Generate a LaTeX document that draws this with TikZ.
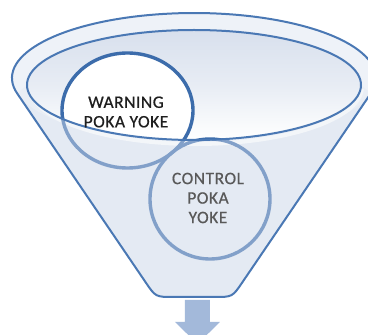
\documentclass[tikz,border=0pt]{standalone}
\usepackage{fontspec}
\setmainfont{Carlito}[LetterSpace=3,FakeBold=0.6]
\begin{document}
\begin{tikzpicture}[x=1pt,y=1pt,
  rim/.style={draw=rimblue, line width=2pt},
  ring/.style={draw=ringblue, line width=3.4pt},
  label/.style={align=center, font=\fontsize{17.5}{19.5}\selectfont, inner sep=0pt}]
\definecolor{rimblue}{HTML}{4A78B4}
\definecolor{ringblue}{HTML}{3C6CAB}
\definecolor{funnelfill}{HTML}{E4EAF3}
\definecolor{bandfill}{HTML}{EEF2F8}
\definecolor{innertop}{HTML}{D8E0ED}
\definecolor{arrowfill}{HTML}{A3B9DA}
\useasboundingbox (0,0) rectangle (368,335);
\clip (0,0) rectangle (368,335);
% funnel body
\path[fill=funnelfill] (17.1,241.7) arc[start angle=193.6, end angle=-13.6, x radius=182pt, y radius=65pt]
  -- (242.5,52.9) .. controls (232.4,38) .. (214.4,38) -- (173.6,38) .. controls (155.6,38) .. (145.5,52.9) -- cycle;
% rim band
\path[fill=bandfill] (194,257) ellipse[x radius=182pt, y radius=65pt];
\path[draw=white, line width=4pt] (30,246) arc[start angle=182, end angle=358, x radius=166pt, y radius=57pt];
% inner ellipse
\path[top color=innertop, bottom color=white, middle color=innertop!60!white] (194,250) ellipse[x radius=167pt, y radius=55pt];
% warning circle fill inside the opening
\begin{scope}
  \clip (194,250) ellipse[x radius=167pt, y radius=55pt];
  \path[fill=white] (127.5,224.5) ellipse[x radius=65.5pt, y radius=57.5pt];
\end{scope}
\path[ring] (127.5,224.5) ellipse[x radius=65.5pt, y radius=57.5pt];
\path[ring] (210,136) circle[radius=60pt];
% front surface
\path[fill=funnelfill, fill opacity=0.42] (27,250) arc[start angle=180, end angle=360, x radius=167pt, y radius=55pt]
  -- (370.9,241.7) -- (242.5,52.9) .. controls (232.4,38) .. (214.4,38) -- (173.6,38) .. controls (155.6,38) .. (145.5,52.9) -- (17.1,241.7) -- cycle;
% outlines
\path[rim] (194,250) ellipse[x radius=167pt, y radius=55pt];
\path[rim] (17.1,241.7) arc[start angle=193.6, end angle=-13.6, x radius=182pt, y radius=65pt]
  -- (242.5,52.9) .. controls (232.4,38) .. (214.4,38) -- (173.6,38) .. controls (155.6,38) .. (145.5,52.9) -- cycle;
% labels
\node[label, text=black!88] (warn) at (126,223) {WARNING\\POKA YOKE};
\node[label, text=black!65] (ctrl) at (208,137) {CONTROL\\POKA\\YOKE};
% output arrow
\path[fill=arrowfill] (185,35) -- (210,35) -- (210,13) -- (220,13) -- (197.5,-9) -- (175,13) -- (185,13) -- cycle;
\end{tikzpicture}
\end{document}
